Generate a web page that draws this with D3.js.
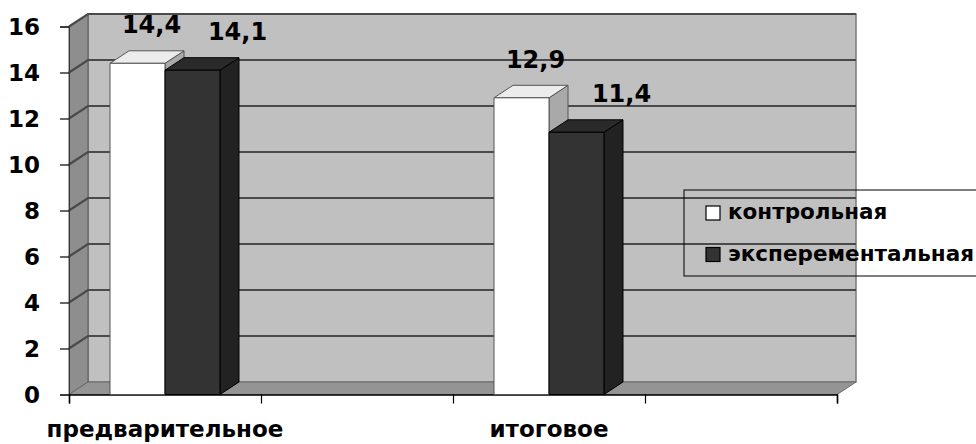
<!DOCTYPE html>
<html>
<head>
<meta charset="utf-8">
<script src="https://cdn.jsdelivr.net/npm/d3@7"></script>
<style>
  html, body { margin: 0; padding: 0; background: #fff; }
  svg { display: block; }
  text { font-family: "DejaVu Sans", sans-serif; font-weight: bold; fill: #000; }
</style>
</head>
<body>
<svg id="chart" width="976" height="444"></svg>
<script>
// Axis slots (every other slot carries a category), series and values
const slotLabels = ["предварительное", "", "итоговое", ""];
const categories = ["предварительное", "итоговое"];
const seriesNames = ["контрольная", "эксперементальная"];
const control = [14.4, 12.9];
const experimental = [14.1, 11.4];
const yTicks = [0, 2, 4, 6, 8, 10, 12, 14, 16];

const svg = d3.select("#chart");

const frontLeft = 69, frontRight = 837;
const depth = { dx: 19, dy: -12.5 };

const y = d3.scaleLinear().domain([0, 16]).range([394.5, 26.5]);
const slot = d3.scaleBand().domain(d3.range(slotLabels.length)).range([frontLeft, frontRight]);
const slotEdge = d3.scaleLinear().domain([0, slotLabels.length]).range([frontLeft, frontRight]);
const sub = d3.scaleBand().domain(seriesNames).range([0, slot.bandwidth()])
  .paddingInner(0).paddingOuter(0.7455);

const pts = p => p.map(d => d.join(",")).join(" ");

// Walls and floor
const yTop = y(16), yBot = y(0);
const g = svg.append("g");
// back wall
g.append("polygon")
  .attr("points", pts([[frontLeft + depth.dx, yTop + depth.dy], [frontRight + depth.dx, yTop + depth.dy],
                       [frontRight + depth.dx, yBot + depth.dy], [frontLeft + depth.dx, yBot + depth.dy]]))
  .attr("fill", "#c0c0c0").attr("stroke", "#7a7a7a").attr("stroke-width", 1.5);
// side wall
g.append("polygon")
  .attr("points", pts([[frontLeft, yBot], [frontLeft, yTop], [frontLeft + depth.dx, yTop + depth.dy], [frontLeft + depth.dx, yBot + depth.dy]]))
  .attr("fill", "#8e8e8e").attr("stroke", "#5a5a5a").attr("stroke-width", 1);
// floor
g.append("polygon")
  .attr("points", pts([[frontLeft, yBot], [frontRight, yBot], [frontRight + depth.dx, yBot + depth.dy], [frontLeft + depth.dx, yBot + depth.dy]]))
  .attr("fill", "#949494").attr("stroke", "#6a6a6a").attr("stroke-width", 1);

// Gridlines on side wall and back wall
const grid = g.append("g").attr("stroke", "#4a4a4a").attr("stroke-width", 2.2).attr("fill", "none");
yTicks.filter(t => t > 0).forEach(t => {
  grid.append("polyline")
    .attr("points", pts([[frontLeft, y(t)], [frontLeft + depth.dx, y(t) + depth.dy], [frontRight + depth.dx, y(t) + depth.dy]]));
});

// Axes
const yAxis = svg.append("g").attr("transform", `translate(${frontLeft},0)`)
  .call(d3.axisLeft(y).tickValues(yTicks).tickSize(9).tickPadding(20).tickFormat(d3.format("d")));
yAxis.select(".domain").attr("stroke", "#333");
yAxis.selectAll(".tick line").attr("stroke", "#000").attr("stroke-width", 1.2);
yAxis.selectAll(".tick text").style("font-size", "23px").attr("dy", "0.36em");

const xAxis = svg.append("g").attr("transform", `translate(0,${yBot})`)
  .call(d3.axisBottom(slotEdge).tickValues(d3.range(slotLabels.length + 1)).tickSize(9).tickFormat(""));
xAxis.select(".domain").attr("stroke", "#000").attr("stroke-width", 1.5);
xAxis.selectAll(".tick line").attr("stroke", "#000").attr("stroke-width", 1.2);

svg.append("g").selectAll("text").data(slotLabels).join("text")
  .attr("x", (d, i) => slot(i) + slot.bandwidth() / 2)
  .attr("y", 437)
  .attr("text-anchor", "middle")
  .style("font-size", "23px")
  .text(d => d);

// 3D columns
const seriesData = [
  { name: seriesNames[0], values: control, front: "#ffffff", side: "#a9a9a9", top: "#ececec", stroke: "#555", labelDx: 14 },
  { name: seriesNames[1], values: experimental, front: "#333333", side: "#222222", top: "#2a2a2a", stroke: "#000", labelDx: 45 }
];
const bars = svg.append("g");
categories.forEach((cat, ci) => {
  const slotIndex = slotLabels.indexOf(cat);
  seriesData.forEach(s => {
    const v = s.values[ci];
    const x0 = slot(slotIndex) + sub(s.name), x1 = x0 + sub.bandwidth();
    const yv = y(v);
    const b = bars.append("g").attr("stroke", s.stroke).attr("stroke-width", 1).attr("stroke-linejoin", "round");
    b.append("polygon").attr("fill", s.side)
      .attr("points", pts([[x1, yBot], [x1, yv], [x1 + depth.dx, yv + depth.dy], [x1 + depth.dx, yBot + depth.dy]]));
    b.append("polygon").attr("fill", s.top)
      .attr("points", pts([[x0, yv], [x1, yv], [x1 + depth.dx, yv + depth.dy], [x0 + depth.dx, yv + depth.dy]]));
    b.append("rect").attr("fill", s.front)
      .attr("x", x0).attr("y", yv).attr("width", x1 - x0).attr("height", yBot - yv);
    bars.append("text")
      .attr("x", (x0 + x1) / 2 + s.labelDx)
      .attr("y", yv - 30)
      .attr("text-anchor", "middle")
      .style("font-size", "24px")
      .text(String(v).replace(".", ","));
  });
});

// Legend
const legend = svg.append("g");
legend.append("rect").attr("x", 684).attr("y", 190).attr("width", 300).attr("height", 86)
  .attr("fill", "none").attr("stroke", "#000").attr("stroke-width", 1);
seriesData.forEach((s, i) => {
  const ly = 206 + i * 41.5;
  legend.append("rect").attr("x", 706).attr("y", ly).attr("width", 14).attr("height", 14)
    .attr("fill", s.front).attr("stroke", "#000").attr("stroke-width", 1.2);
  legend.append("text").attr("x", 728).attr("y", ly + 13).style("font-size", "21.5px").text(s.name);
});
</script>
</body>
</html>
